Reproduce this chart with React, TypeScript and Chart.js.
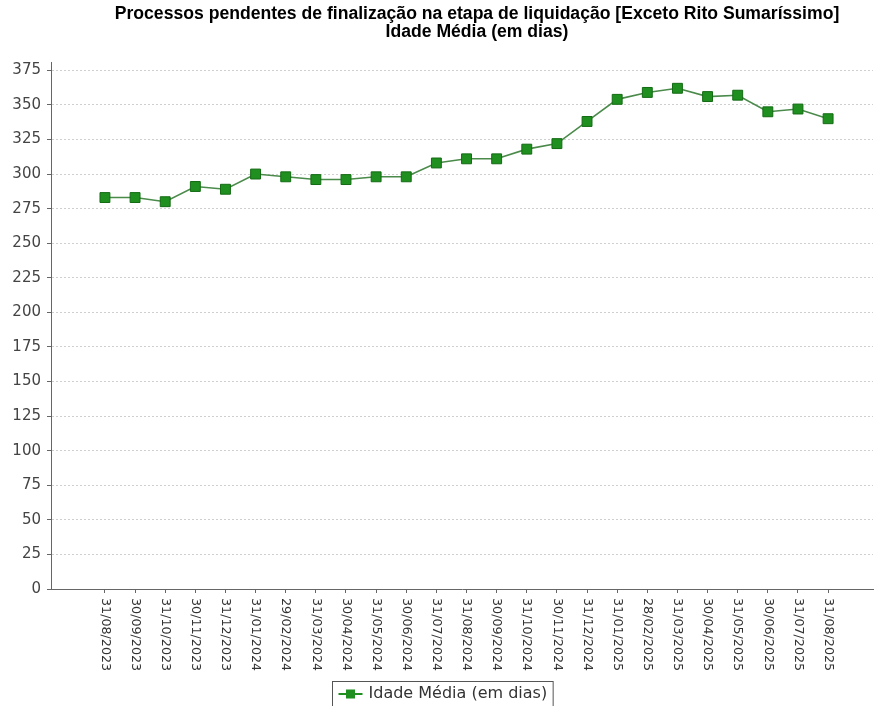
import React, { useEffect, useRef } from "react";
import { Chart, registerables } from "chart.js";

Chart.register(...registerables);

const categories: string[] = [
  "31/08/2023", "30/09/2023", "31/10/2023", "30/11/2023", "31/12/2023",
  "31/01/2024", "29/02/2024", "31/03/2024", "30/04/2024", "31/05/2024",
  "30/06/2024", "31/07/2024", "31/08/2024", "30/09/2024", "31/10/2024",
  "30/11/2024", "31/12/2024", "31/01/2025", "28/02/2025", "31/03/2025",
  "30/04/2025", "31/05/2025", "30/06/2025", "31/07/2025", "31/08/2025",
];

const idadeMedia: number[] = [
  283, 283, 280, 291, 289,
  300, 298, 296, 296, 298,
  298, 308, 311, 311, 318,
  322, 338, 354, 359, 362,
  356, 357, 345, 347, 340,
];

const yTicks: number[] = [0, 25, 50, 75, 100, 125, 150, 175, 200, 225, 250, 275, 300, 325, 350, 375];

const seriesLabel = "Idade Média (em dias)";
const titleLines = [
  "Processos pendentes de finalização na etapa de liquidação [Exceto Rito Sumaríssimo]",
  "Idade Média (em dias)",
];

const GREEN = "#1f8f1f";
const GREEN_DARK = "#136b13";
const LINE = "#4a8a4a";

const extrasPlugin = {
  id: "extras",
  afterDraw(chart: any) {
    const ctx = chart.ctx as CanvasRenderingContext2D;
    const xs = chart.scales.x;

    // title
    ctx.save();
    ctx.font = "bold 17.6px 'Liberation Sans', Arial, sans-serif";
    ctx.fillStyle = "#000";
    ctx.textAlign = "center";
    ctx.textBaseline = "middle";
    titleLines.forEach((t, i) => ctx.fillText(t, 477, 14 + i * 18));
    ctx.restore();

    // rotated (clockwise) category labels
    ctx.save();
    ctx.font = "12.7px 'DejaVu Sans'";
    ctx.fillStyle = "#333";
    ctx.textAlign = "left";
    ctx.textBaseline = "middle";
    categories.forEach((lab, i) => {
      const px = xs.getPixelForValue(i);
      ctx.save();
      ctx.translate(px, xs.top + 9);
      ctx.rotate(Math.PI / 2);
      ctx.fillText(lab, 0, 0);
      ctx.restore();
    });
    ctx.restore();

    // legend
    ctx.save();
    ctx.font = "16px 'DejaVu Sans'";
    const tw = ctx.measureText(seriesLabel).width;
    const boxW = 6 + 24 + 6 + tw + 6;
    const bx = 332.5;
    const by = 681.5;
    const cy = 694;
    ctx.strokeStyle = "#555";
    ctx.lineWidth = 1;
    ctx.strokeRect(bx, by, boxW, 40);
    ctx.strokeStyle = GREEN;
    ctx.lineWidth = 2;
    ctx.beginPath();
    ctx.moveTo(bx + 6, cy);
    ctx.lineTo(bx + 30, cy);
    ctx.stroke();
    ctx.fillStyle = GREEN;
    ctx.fillRect(bx + 13.5, cy - 4.5, 9, 9);
    ctx.fillStyle = "#333";
    ctx.textAlign = "left";
    ctx.textBaseline = "middle";
    ctx.fillText(seriesLabel, bx + 36, cy);
    ctx.restore();
  },
};

export default function App() {
  const ref = useRef<HTMLCanvasElement | null>(null);

  useEffect(() => {
    if (!ref.current) return;
    const chart = new Chart(ref.current, {
      type: "line",
      data: {
        datasets: [
          {
            label: seriesLabel,
            data: idadeMedia.map((v, i) => ({ x: i, y: v })),
            borderColor: LINE,
            borderWidth: 1.6,
            backgroundColor: GREEN,
            pointStyle: "rect",
            pointRadius: 7,
            pointBackgroundColor: GREEN,
            pointBorderColor: GREEN_DARK,
            pointBorderWidth: 1,
            tension: 0,
          },
        ],
      },
      options: {
        responsive: false,
        animation: false,
        layout: { autoPadding: false, padding: { left: 0, right: 1, top: 62, bottom: 0 } },
        plugins: {
          legend: { display: false },
          tooltip: { enabled: false },
          title: { display: false },
        },
        scales: {
          x: {
            type: "linear",
            min: -1.79,
            max: 25.49,
            afterBuildTicks: (s: any) => {
              s.ticks = categories.map((_, i) => ({ value: i }));
            },
            afterFit: (s: any) => {
              s.height = 117;
            },
            ticks: { display: false },
            grid: { display: true, drawOnChartArea: false, drawTicks: true, tickLength: 4, tickColor: "#666" },
            border: { display: true, color: "#666", width: 1 },
          },
          y: {
            type: "linear",
            min: 0,
            max: 381,
            afterBuildTicks: (s: any) => {
              s.ticks = yTicks.map((v) => ({ value: v }));
            },
            afterFit: (s: any) => {
              s.width = 51;
            },
            ticks: {
              autoSkip: false,
              padding: 6,
              color: "#444",
              font: { family: "'DejaVu Sans'", size: 15 },
            },
            grid: { color: "#cfcfcf", lineWidth: 1, drawTicks: true, tickLength: 4, tickColor: "#666", tickBorderDash: [] },
            border: { display: true, color: "#666", width: 1, dash: [2, 2] },
          },
        },
      },
      plugins: [extrasPlugin],
    } as any);
    return () => chart.destroy();
  }, []);

  return (
    <div style={{ position: "fixed", left: 0, top: 0, width: 874, height: 706, background: "#fff" }}>
      <canvas ref={ref} width={874} height={706} style={{ width: 874, height: 706, display: "block" }} />
    </div>
  );
}
